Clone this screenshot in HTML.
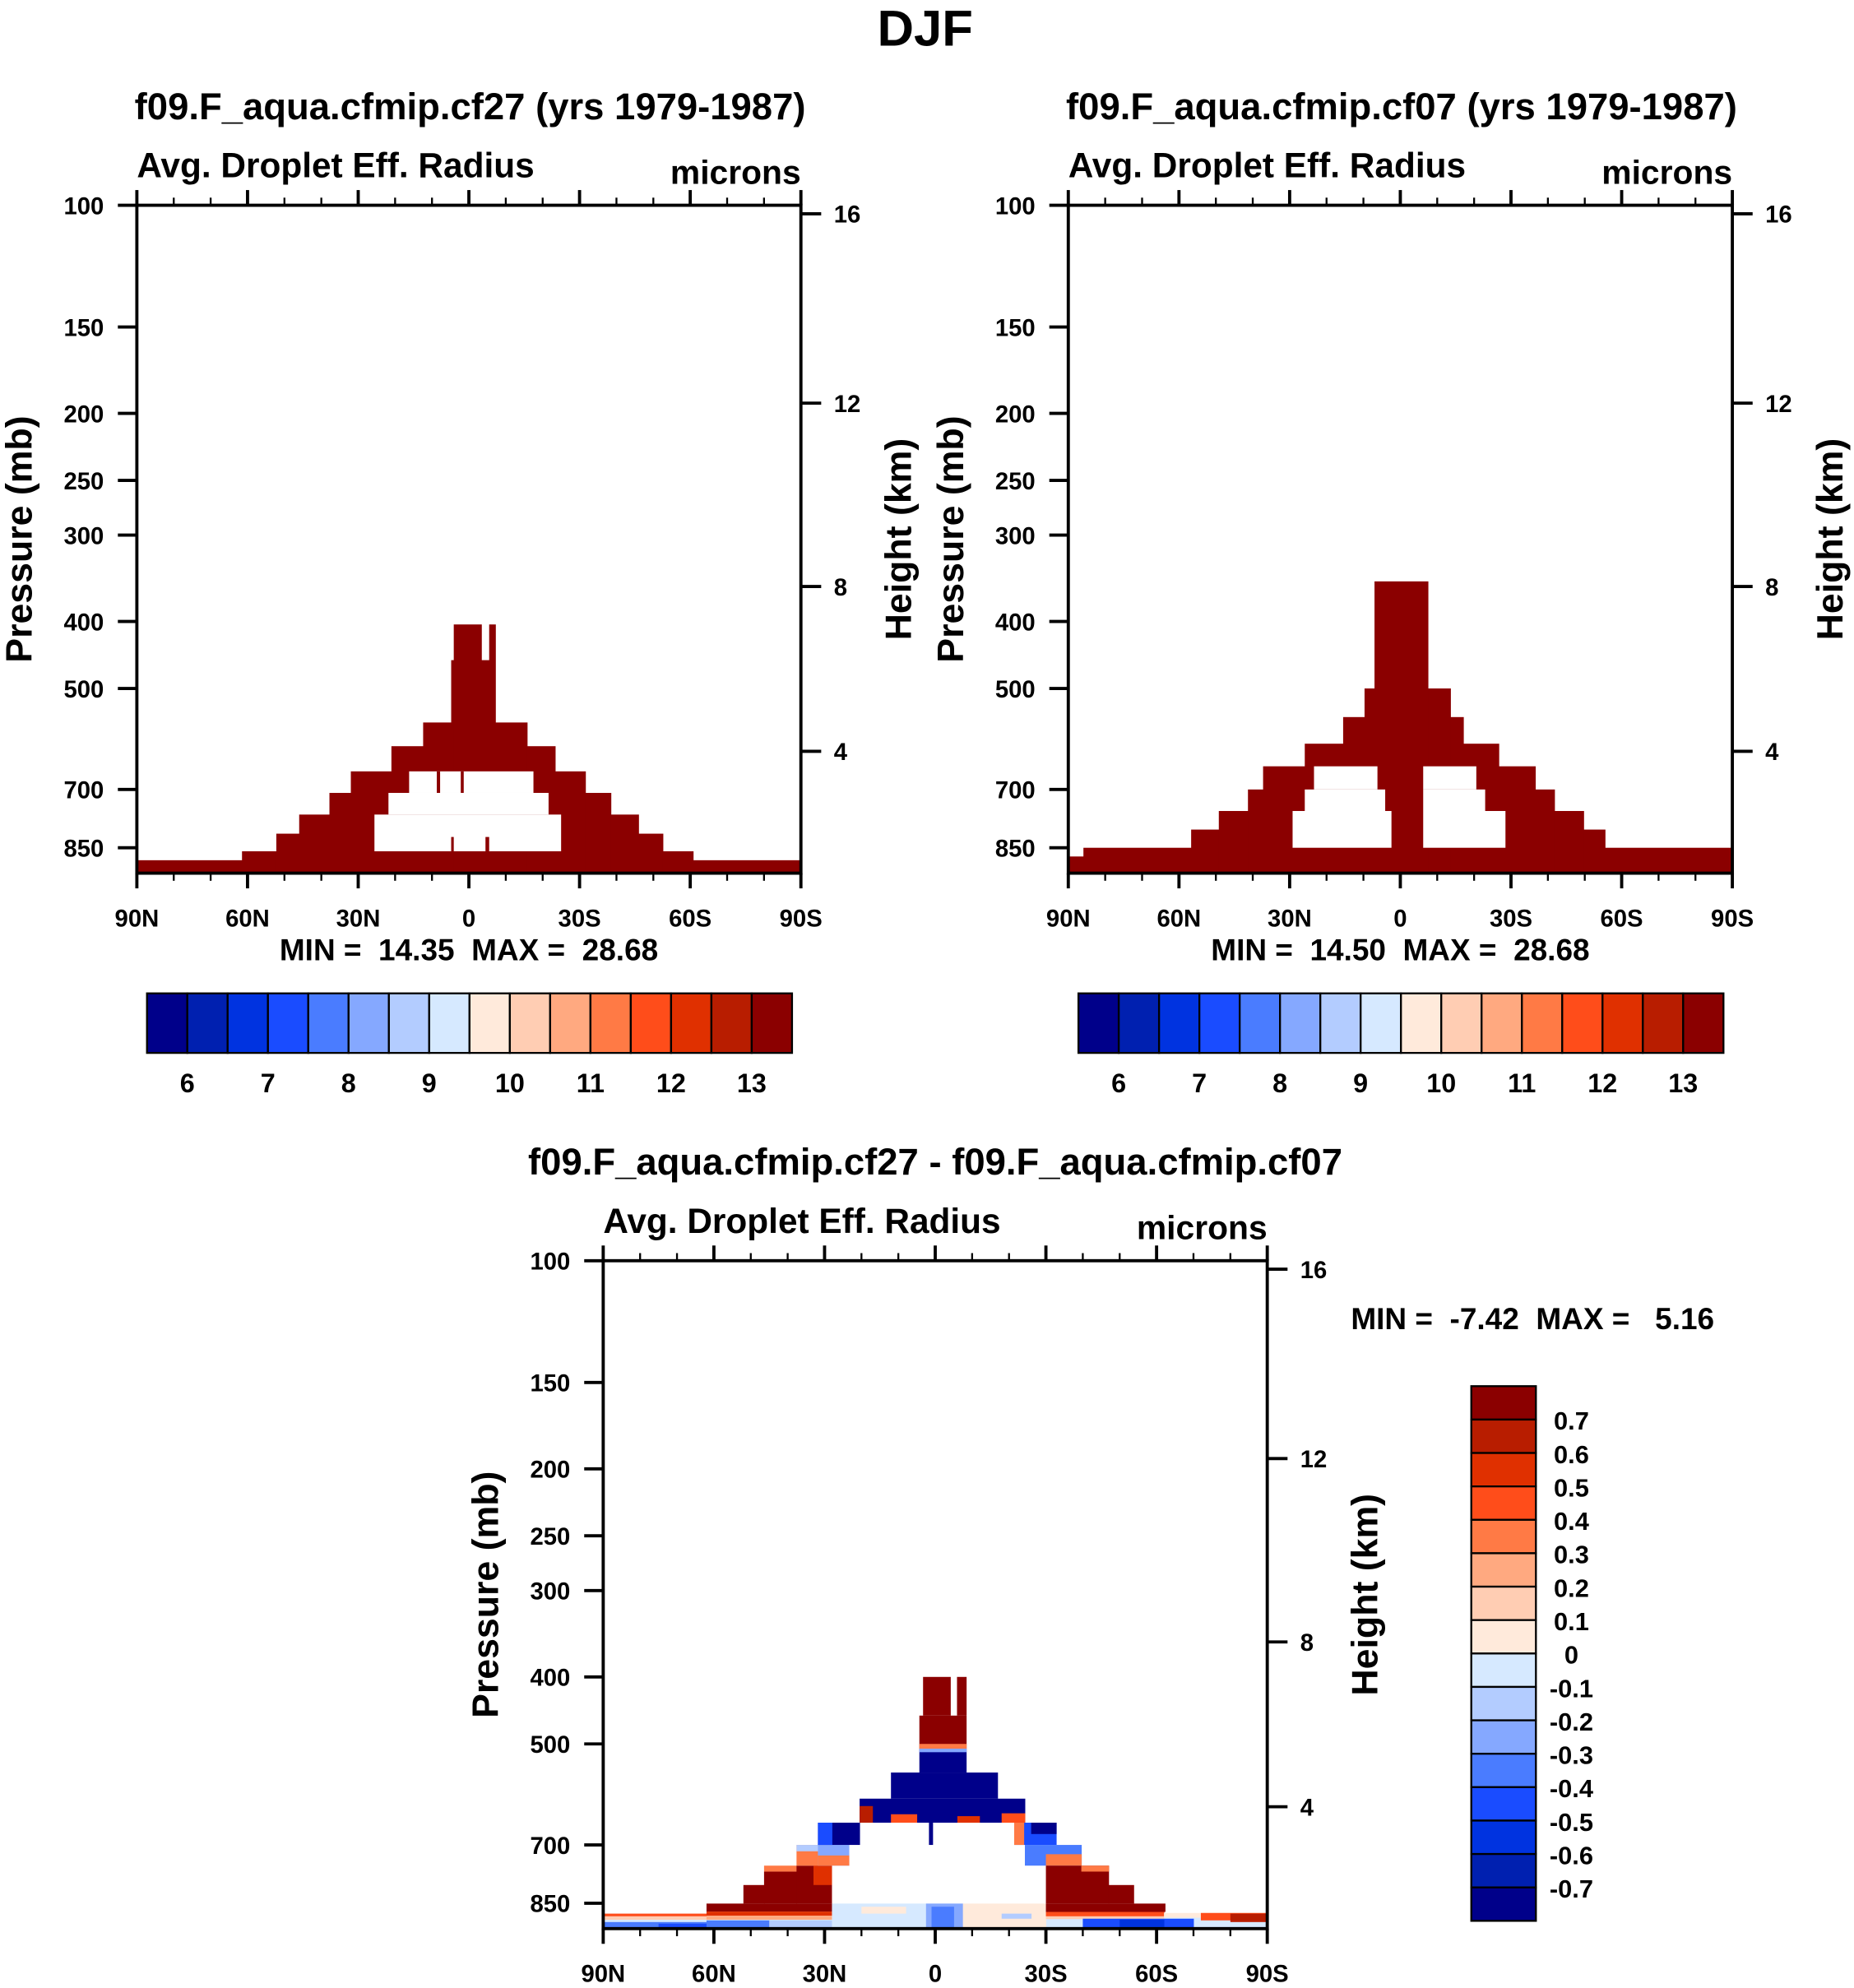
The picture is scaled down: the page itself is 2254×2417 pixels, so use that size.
<!DOCTYPE html>
<html><head><meta charset="utf-8">
<style>
html,body{margin:0;padding:0;background:#fff;}
svg{display:block;font-family:"Liberation Sans",Arial,sans-serif;font-weight:bold;}
</style></head>
<body>
<svg id="fig" xmlns="http://www.w3.org/2000/svg" width="2254" height="2417" viewBox="0 0 1463 1569" preserveAspectRatio="none">
<text x="730" y="36" text-anchor="middle" font-size="40">DJF</text>
</svg>
<script>
// ---- data ----
const palette = ['#00008a','#0020b0','#0033e0','#1a4cff','#4a7cff','#85a8ff','#b3ccff','#d6e9ff','#ffeadb','#ffcdb3','#ffa980','#ff7a45','#ff4d1a','#e03000','#b81d00','#8b0000'];
const pressureTicks = [100,150,200,250,300,400,500,700,850];
const heightTicks = [16,12,8,4];
const latTicks = [90,60,30,0,-30,-60,-90];
const latLabels = ['90N','60N','30N','0','30S','60S','90S'];
const cbLabelsAbs = ['6','7','8','9','10','11','12','13'];
const cbLabelsDiff = ['0.7','0.6','0.5','0.4','0.3','0.2','0.1','0','-0.1','-0.2','-0.3','-0.4','-0.5','-0.6','-0.7'];
// columns: [lat1, lat2, pressureTop] filled down to surface
const p1Cols = [[90,61.5,886],[61.5,52.2,860],[52.2,46,811],[46,37.8,761],[37.8,32,708],[32,21,659],[21,12.4,606],[12.4,4.8,560],[4.8,4.1,455],[4.1,-3.4,404],[-3.4,-5.5,455],[-5.5,-7.2,404],[-7.2,-15.8,560],[-15.8,-23.4,606],[-23.4,-31.6,659],[-31.6,-38.5,708],[-38.5,-46,761],[-46,-52.6,811],[-52.6,-60.8,860],[-60.8,-90,886]];
const p1Holes = [[16.2,-17.5,659,708],[21.8,-21.6,708,761],[25.6,-25,761,860]];
const p1Slits = [[8.7,7.8,659,708],[2.2,1.4,659,708],[4.8,4.1,820,860],[-4.5,-5.5,820,860]];
const p2Cols = [[90,85.9,875],[85.9,56.7,850],[56.7,49.2,800],[49.2,41.3,752],[41.3,37.2,700],[37.2,25.9,648],[25.9,15.5,601],[15.5,9.7,550],[9.7,7.0,500],[7.0,-7.5,350],[-7.5,-13.6,500],[-13.6,-17.1,550],[-17.1,-26.7,601],[-26.7,-36.6,648],[-36.6,-41.8,700],[-41.8,-49.7,752],[-49.7,-55.5,800],[-55.5,-90,850]];
const p2Holes = [[23.4,6.2,648,700],[25.9,4.1,700,752],[29.2,2.4,752,850],[-6.2,-20.6,648,700],[-6.2,-23,700,752],[-6.2,-28.5,752,850]];
const p2Slits = [];
// difference field patches: [lat1, lat2, pTop, pBot, colourIndex]
const diffRects = [
[90,-90,880,925,7],[90,62,880,888,12],[90,62,888,898,9],[90,62,905,925,4],[75,62,910,925,3],
[62,28,851,874,15],[62,28,874,886,13],[62,28,886,898,10],[62,45,900,925,4],[45,28,900,925,6],
[28,2.5,851,925,7],[20,8,860,880,8],[2.5,-7.5,851,925,5],[1,-5,860,925,4],[-7.5,-30,851,925,8],[-18,-26,880,895,6],
[-30,-53.8,851,875,15],[-30,-62,875,888,12],[-30,-62,888,896,9],[-40,-70,895,925,3],[-50,-62,898,920,2],[-62,-90,878,892,8],[-72,-90,878,900,12],[-80,-90,880,905,14],
[52,46.4,800,851,15],[46.4,37.6,765,851,15],[46.4,37.6,750,765,11],[37.6,28.1,750,851,15],[33,28.1,750,800,13],
[37.6,31.8,700,750,11],[37.6,31.8,700,715,6],[31.8,23.4,700,750,5],[31.8,23.4,725,750,11],[31.8,20.5,650,700,0],[31.8,28,650,700,3],
[20.5,12,600,650,0],[12,-16.9,600,650,0],[20.5,17,615,650,14],[12,5,632,650,12],[-6,-12,636,650,13],
[12,-16.9,550,600,0],[4.3,-8.4,508,550,0],[4.3,-8.4,455,508,15],[3.3,-4.1,400,455,15],[-5.9,-8.4,400,455,15],
[4.3,-8.4,500,508,11],[4.3,-8.4,508,514,5],
[-16.9,-24.3,600,650,0],[-18,-24.3,630,650,12],
[-21.4,-32.8,650,700,3],[-21.4,-24,650,700,11],[-26,-32.8,650,675,0],
[-24.3,-39.6,700,750,4],[-30,-39.6,722,750,11],
[-30,-47,750,851,15],[-47,-53.8,800,851,15],[-39.6,-47,750,765,11],[-53.8,-62.3,851,875,15],
[1.7,0.7,650,700,0]
];
// ---- drawing ----
const NS='http://www.w3.org/2000/svg';
const svg=document.getElementById('fig');
function mk(tag,attrs,parent){const e=document.createElementNS(NS,tag);for(const k in attrs)e.setAttribute(k,attrs[k]);(parent||svg).appendChild(e);return e;}
function zToP(z){const m=z*1000;if(m<=11000)return 1013.25*Math.pow(1-2.25577e-5*m,5.25588);return 226.32*Math.exp(-(m-11000)/6341.6);}
const DEC=545.6, PBOT=925;
function makePanel(o){
  const L=o.x, R=o.x+524, T=o.y, B=T+(Math.log10(PBOT)-2)*DEC;
  const X=lat=>L+(90-lat)/180*(R-L);
  const Y=p=>T+(Math.log10(p)-2)*DEC;
  const g=mk('g',{});
  
  
  if(o.title){const t=mk('text',{x:o.titleX,y:T-68,'text-anchor':'middle','font-size':29.5},g);t.textContent=o.title;
    }
  const st=mk('text',{x:L,y:T-22,'font-size':27.5},g);st.textContent='Avg. Droplet Eff. Radius';
  
  const un=mk('text',{x:R,y:T-17,'text-anchor':'end','font-size':26.5},g);un.textContent='microns';
  
  const fld=mk('g',{},g);
  
  
  if(o.cols){
    o.cols.forEach(c=>{const r=mk('rect',{x:X(c[0]),y:Y(c[2]),width:X(c[1])-X(c[0])+0.3,height:B-Y(c[2]),fill:palette[15]},fld);
      });
    o.holes.forEach(c=>{const r=mk('rect',{x:X(c[0]),y:Y(c[2]),width:X(c[1])-X(c[0]),height:Y(c[3])-Y(c[2]),fill:'#fff'},fld);
      });
    o.slits.forEach(c=>{const r=mk('rect',{x:X(c[0]),y:Y(c[2]),width:X(c[1])-X(c[0]),height:Y(c[3])-Y(c[2]),fill:palette[15]},fld);
      });
  }
  if(o.diff){
    o.diff.forEach(c=>{const r=mk('rect',{x:X(c[0]),y:Y(c[2]),width:X(c[1])-X(c[0])+0.3,height:Math.min(Y(c[3]),B)-Y(c[2]),fill:palette[c[4]]},fld);
      });
  }
  const fr=mk('rect',{x:L,y:T,width:R-L,height:B-T,fill:'none',stroke:'#000','stroke-width':2.5},g);
  
  for(let lat=90;lat>=-90;lat-=10){const major=lat%30===0;const len=major?12:6;
    mk('line',{x1:X(lat),x2:X(lat),y1:T,y2:T-len,stroke:'#000','stroke-width':major?2.5:1.5},g);
    mk('line',{x1:X(lat),x2:X(lat),y1:B,y2:B+len,stroke:'#000','stroke-width':major?2.5:1.5},g);}
  latTicks.forEach((lat,i)=>{const t=mk('text',{x:X(lat),y:B+42,'text-anchor':'middle','font-size':19},g);t.textContent=latLabels[i];
    });
  pressureTicks.forEach(p=>{mk('line',{x1:L-15,x2:L,y1:Y(p),y2:Y(p),stroke:'#000','stroke-width':2.5},g);
    const t=mk('text',{x:L-26,y:Y(p)+7,'text-anchor':'end','font-size':19},g);t.textContent=p;
    });
  heightTicks.forEach(z=>{const y=Y(zToP(z));mk('line',{x1:R,x2:R+16,y1:y,y2:y,stroke:'#000','stroke-width':2.5},g);
    const t=mk('text',{x:R+26,y:y+7,'font-size':19},g);t.textContent=z;
    });
  const cy=(T+B)/2;
  const yt=mk('text',{x:0,y:0,'text-anchor':'middle','font-size':29,transform:`translate(${L-83},${cy}) rotate(-90)`},g);yt.textContent='Pressure (mb)';
  
  const ht=mk('text',{x:0,y:0,'text-anchor':'middle','font-size':29,transform:`translate(${R+87},${cy}) rotate(-90)`},g);ht.textContent='Height (km)';
  
  const mm=mk('text',{x:o.mmX,y:o.mmY,'text-anchor':o.mmAnchor,'font-size':24},g);mm.textContent=o.minmax;mm.style.whiteSpace='pre';
  
}
function hColorbar(x0,name){const g=mk('g',{});
  
  const w=(625-116)/16;
  palette.forEach((c,i)=>{mk('rect',{x:x0+i*w,y:784,width:w,height:47,fill:c,stroke:'#000','stroke-width':1.5},g);});
  cbLabelsAbs.forEach((l,i)=>{const t=mk('text',{x:x0+(i*2+1)*w,y:862,'text-anchor':'middle','font-size':21},g);t.textContent=l;
    });}
makePanel({name:'panel-cf27',x:108,y:162,title:'f09.F_aqua.cfmip.cf27 (yrs 1979-1987)',titleX:371,cols:p1Cols,holes:p1Holes,slits:p1Slits,minmax:'MIN =  14.35  MAX =  28.68',mmX:370,mmY:758,mmAnchor:'middle'});
makePanel({name:'panel-cf07',x:843,y:162,title:'f09.F_aqua.cfmip.cf07 (yrs 1979-1987)',titleX:1106,cols:p2Cols,holes:p2Holes,slits:p2Slits,minmax:'MIN =  14.50  MAX =  28.68',mmX:1105,mmY:758,mmAnchor:'middle'});
makePanel({name:'panel-difference',x:476,y:995,title:'f09.F_aqua.cfmip.cf27 - f09.F_aqua.cfmip.cf07',titleX:738,diff:diffRects,minmax:'MIN =  -7.42  MAX =   5.16',mmX:1066,mmY:1049,mmAnchor:'start'});
hColorbar(116,'colorbar-cf27');
hColorbar(851,'colorbar-cf07');
(function(){const g=mk('g',{});
  
  const h=(1516-1094)/16;
  palette.slice().reverse().forEach((c,i)=>{mk('rect',{x:1161,y:1094+i*h,width:51,height:h,fill:c,stroke:'#000','stroke-width':1.5},g);});
  cbLabelsDiff.forEach((l,i)=>{const t=mk('text',{x:1240,y:1094+(i+1)*h+8,'text-anchor':'middle','font-size':20},g);t.textContent=l;
    });})();
</script>
</body></html>
